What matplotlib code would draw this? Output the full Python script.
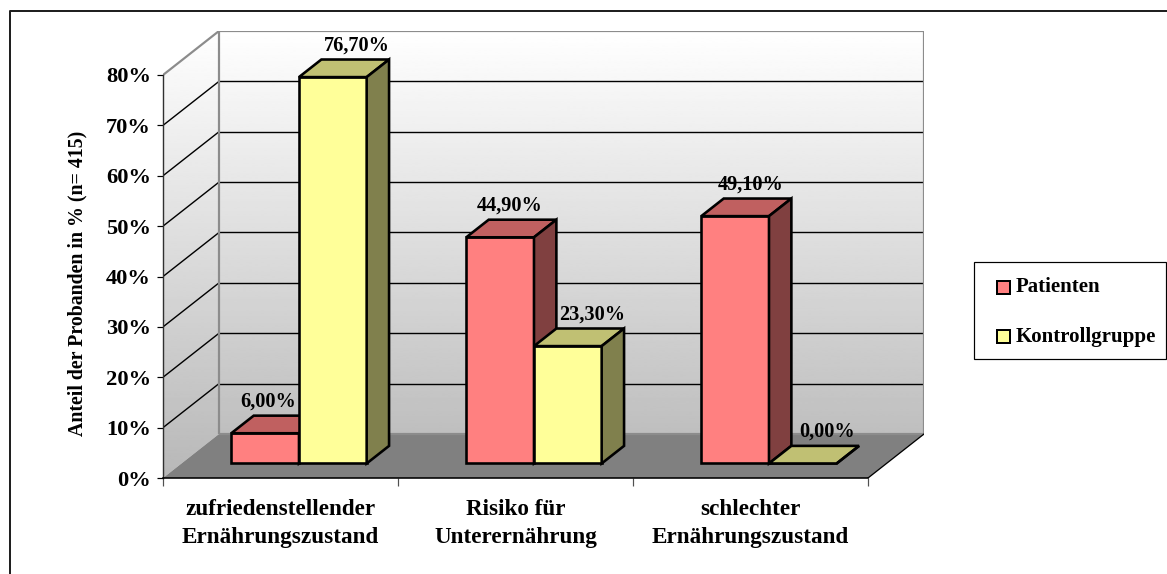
import numpy as np
import matplotlib
matplotlib.use("Agg")
import matplotlib.pyplot as plt
from matplotlib.patches import Polygon, Rectangle
from matplotlib.lines import Line2D

# --- data -------------------------------------------------------------
categories = ["zufriedenstellender\nErnährungszustand",
              "Risiko für\nUnterernährung",
              "schlechter\nErnährungszustand"]
series_names = ["Patienten", "Kontrollgruppe"]
patienten = [6.0, 44.9, 49.1]
kontrollgruppe = [76.7, 23.3, 0.0]
y_ticks = [0, 10, 20, 30, 40, 50, 60, 70, 80]
y_label = "Anteil der Probanden in % (n= 415)"

# front / top / side face colours per series
face_colors = [("#FF8080", "#C06060", "#804040"),
               ("#FFFF99", "#C0C073", "#80804D")]

plt.rcParams["font.family"] = ["Liberation Serif", "DejaVu Serif"]
plt.rcParams["font.weight"] = "bold"

W, H, DPI = 1167, 574, 100
fig = plt.figure(figsize=(W / DPI, H / DPI), dpi=DPI)
PT = 72.0 / DPI  # points per pixel

# front plane of the 3-D box in pixels, and depth offset of the back wall
X0, X1, Y0, YTOP = 163, 868, 478, 75
DXP, DYP = 56, 44
n = len(categories)
ymax = y_ticks[-1]
ux = (X1 - X0) / n
uy = (Y0 - YTOP) / ymax
DX, DY = DXP / ux, DYP / uy

ax = fig.add_axes([X0 / W, (H - Y0) / H, (X1 + DXP - X0) / W, (Y0 - YTOP + DYP) / H])
ax.set_facecolor("none")


def P(x, y, d=0.0):
    """Point at data (x, y) pushed back by depth fraction d."""
    return (x + d * DX, y + d * DY)


# --- walls and floor ---------------------------------------------------
back_wall = Polygon([P(0, 0, 1), P(n, 0, 1), P(n, ymax, 1), P(0, ymax, 1)],
                    closed=True, facecolor="none", edgecolor="none",
                    transform=ax.transData)
side_wall = Polygon([P(0, 0), P(0, 0, 1), P(0, ymax, 1), P(0, ymax)],
                    closed=True, facecolor="none", edgecolor="none",
                    transform=ax.transData)
ax.add_patch(back_wall)
ax.add_patch(side_wall)
grad = np.linspace(0.72, 1.0, 256).reshape(-1, 1)
for clip in (back_wall, side_wall):
    im = ax.imshow(grad, cmap="gray", vmin=0, vmax=1, origin="lower",
                   extent=[0, n + DX, 0, ymax + DY], aspect="auto",
                   interpolation="bilinear", zorder=0.5)
    im.set_clip_path(clip)

floor = Polygon([P(0, 0), P(n, 0), P(n, 0, 1), P(0, 0, 1)], closed=True,
                facecolor="#808080", edgecolor="none", zorder=1)
ax.add_patch(floor)

# gridlines on the back wall and the matching diagonals on the side wall
for v in y_ticks[1:-1]:
    ax.add_line(Line2D([P(0, v, 1)[0], P(n, v, 1)[0]], [P(0, v, 1)[1], P(n, v, 1)[1]],
                       color="black", lw=1.0 * PT * 1.4, zorder=1.5))
    ax.add_line(Line2D([P(0, v)[0], P(0, v, 1)[0]], [P(0, v)[1], P(0, v, 1)[1]],
                       color="black", lw=1.0 * PT * 1.4, zorder=1.5))

wall_edge = dict(color="#8C8C8C", lw=2.2 * PT, zorder=1.6, solid_capstyle="butt")
for a, b in [(P(0, ymax), P(0, ymax, 1)), (P(0, ymax, 1), P(n, ymax, 1)),
             (P(0, 0, 1), P(0, ymax, 1)), (P(n, 0, 1), P(n, ymax, 1)),
             (P(0, 0, 1), P(n, 0, 1))]:
    ax.add_line(Line2D([a[0], b[0]], [a[1], b[1]], **wall_edge))
a, b = P(n, 0), P(n, 0, 1)
ax.add_line(Line2D([a[0], b[0]], [a[1], b[1]], color="black", lw=1.3 * PT, zorder=1.6))

# --- bars ---------------------------------------------------------------
BW = 0.288           # bar width in category units
F0, F1 = 0.33, 0.73  # depth of bar front and back faces
edge = dict(edgecolor="black", lw=2.6 * PT, joinstyle="miter")
# horizontal nudge of value labels (px): base per series, step per category
label_dx = [(-19, 6), (2, 0)]
values = [patienten, kontrollgruppe]

z = 3
for i in range(n):
    for s, vals in enumerate(values):
        v = vals[i]
        xl = i + 0.5 - BW + s * BW
        xr = xl + BW
        front_c, top_c, side_c = face_colors[s]
        faces = [
            ([P(xl, 0, F0), P(xr, 0, F0), P(xr, v, F0), P(xl, v, F0)], front_c),
            ([P(xl, v, F0), P(xr, v, F0), P(xr, v, F1), P(xl, v, F1)], top_c),
            ([P(xr, 0, F0), P(xr, 0, F1), P(xr, v, F1), P(xr, v, F0)], side_c),
        ]
        for pts, col in faces:
            ax.add_patch(Polygon(pts, closed=True, facecolor=col, zorder=z, **edge))
        z += 0.1
        lx, ly = P((xl + xr) / 2, v, F1)
        base, step = label_dx[s]
        ax.annotate(f"{v:.2f}".replace(".", ",") + "%", xy=(lx, ly),
                    xytext=((base + step * i) * PT, 14 * PT),
                    textcoords="offset points",
                    ha="center", va="center", fontsize=14.6, fontweight="bold",
                    zorder=10)

# --- axes ------------------------------------------------------------------
ax.set_xlim(0, n + DX)
ax.set_ylim(0, ymax + DY)
for side in ("top", "right"):
    ax.spines[side].set_visible(False)
ax.spines["left"].set_bounds(0, ymax)
ax.spines["left"].set_color("#303030")
ax.spines["left"].set_linewidth(1.4 * PT)
ax.spines["bottom"].set_bounds(0, n)
ax.spines["bottom"].set_color("black")
ax.spines["bottom"].set_linewidth(1.6 * PT)
ax.spines["left"].set_zorder(1.7)
ax.spines["bottom"].set_zorder(1.7)

ax.set_yticks(y_ticks)
ax.set_yticklabels([f"{t}%" for t in y_ticks])
ax.tick_params(axis="y", direction="out", length=6 * PT, width=1.2 * PT,
               color="black", pad=6 * PT, labelsize=16.2)
ax.set_xticks(range(n + 1))
ax.set_xticklabels([""] * (n + 1))
ax.tick_params(axis="x", which="major", direction="out", length=8 * PT,
               width=1.2 * PT, color="#505050")
ax.set_xticks([i + 0.5 for i in range(n)], minor=True)
ax.set_xticklabels(categories, minor=True)
ax.tick_params(axis="x", which="minor", length=0, pad=21 * PT, labelsize=16.7)
for lbl in ax.get_xticklabels(minor=True):
    lbl.set_linespacing(1.42)

fig.text(77 / W, 1 - 283.5 / H, y_label, rotation=90, ha="center", va="center",
         fontsize=14.3, fontweight="bold")


# --- legend -------------------------------------------------------------
def F(x, y):
    return (x / W, 1 - y / H)


lx0, ly0, lx1, ly1 = 974, 262, 1166, 359
fig.add_artist(Rectangle(F(lx0, ly1), (lx1 - lx0) / W, (ly1 - ly0) / H,
                         transform=fig.transFigure, facecolor="white",
                         edgecolor="black", lw=1.2 * PT))
for k, (name, cols) in enumerate(zip(series_names, face_colors)):
    yc = 287.3 + k * 49.4
    fig.add_artist(Rectangle(F(997, yc + 6.5), 13 / W, 13 / H,
                             transform=fig.transFigure, facecolor=cols[0],
                             edgecolor="black", lw=2.0 * PT))
    fig.text(*F(1016, yc), name, ha="left", va="center", fontsize=15,
             fontweight="bold")

# outer chart frame (left and top sides)
fig.add_artist(Line2D([10 / W, 10 / W, 1.0], [0.0, 1 - 10.5 / H, 1 - 10.5 / H],
                      transform=fig.transFigure, color="#202020", lw=2.0 * PT))

fig.savefig("out.png", dpi=DPI)
